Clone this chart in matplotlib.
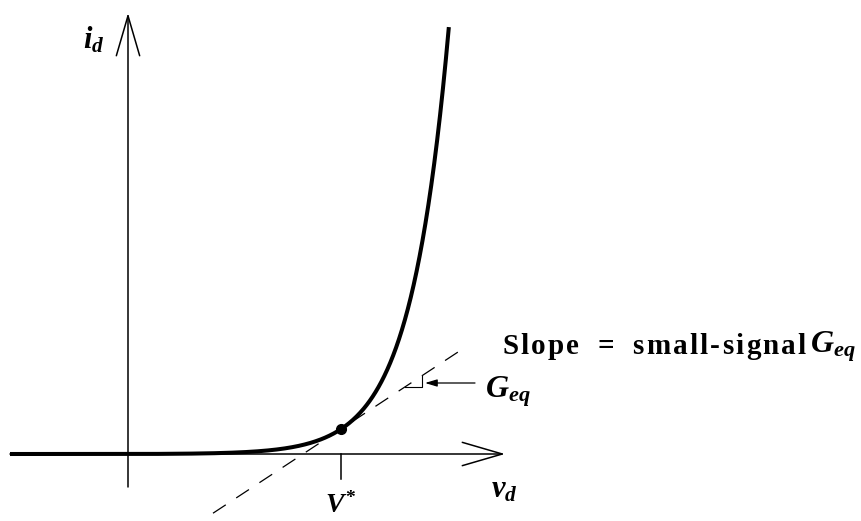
import numpy as np
import matplotlib
matplotlib.use("Agg")
import matplotlib.pyplot as plt

plt.rcParams['mathtext.fontset'] = 'custom'
plt.rcParams['mathtext.it'] = 'Liberation Serif:bold:italic'
plt.rcParams['mathtext.rm'] = 'Liberation Serif:bold'
plt.rcParams['mathtext.bf'] = 'Liberation Serif:bold'
plt.rcParams['lines.scale_dashes'] = False

# operating point and diode parameters (drawing units)
v_star = 2.13
i_star = 0.25
v_t = 0.38
v_start = -1.18
i_top = 4.27

# axis extents
v_axis = [-1.18, 3.77]
i_axis = [-0.33, 4.41]
tick_len = 0.25

# tangent line range, slope-marker step, G_eq pointer
tangent_v = [0.85, 3.34]
step_v = [2.77, 2.94]
pointer_v = [3.47, 2.97]
pointer_i = 0.71

slope = i_star / v_t
v_top = v_star + v_t * np.log(i_top / i_star)
v = np.linspace(v_start, v_top, 600)
i = i_star * np.exp((v - v_star) / v_t) - i_star * np.exp(-v_star / v_t)
i = np.clip(i, 0, None)


def tangent(x):
    return i_star + slope * (np.asarray(x) - v_star)


fig = plt.figure(figsize=(8.62, 5.21), dpi=100)
ax = fig.add_axes([0, 0, 1, 1])
ax.set_xlim(-1.28, 7.34)
ax.set_ylim(-0.67, 4.54)
ax.axis('off')
renderer = fig.canvas.get_renderer()

# axes drawn as open arrows
head = dict(arrowstyle='->,head_length=1.44,head_width=0.42', mutation_scale=20,
            lw=1.1, color='black', shrinkA=0, shrinkB=0)
ax.annotate('', xy=(v_axis[1], 0), xytext=(v_axis[0], 0), arrowprops=head)
ax.annotate('', xy=(0, i_axis[1]), xytext=(0, i_axis[0]), arrowprops=head)

# tick at V*
ax.plot([v_star, v_star], [0, -tick_len], color='black', lw=1.1)

# tangent (dashed)
tv = np.array(tangent_v)
ax.plot(tv, tangent(tv), color='black', lw=0.9, linestyle=(0, (11, 9)))

# small step marking the slope
ax.plot([step_v[0], step_v[1], step_v[1]],
        [tangent(step_v[0]), tangent(step_v[0]), tangent(step_v[1])],
        color='black', lw=0.8)
ax.annotate('', xy=(pointer_v[1], pointer_i), xytext=(pointer_v[0], pointer_i),
            arrowprops=dict(arrowstyle='-|>,head_length=0.6,head_width=0.18',
                            mutation_scale=12, lw=0.9, color='black',
                            shrinkA=0, shrinkB=0))

# diode characteristic and operating point
ax.plot(v, i, color='black', lw=2.9, solid_capstyle='butt')
ax.plot([v_star], [i_star], 'o', color='black', ms=7)

# labels
ax.text(-0.24, 4.14, r'$i_d$', fontsize=22, ha='right', va='center')
ax.text(3.76, -0.36, r'$v_d$', fontsize=22, ha='center', va='center')
ax.text(v_star, -0.65, r'$V^{*}$', fontsize=20, ha='center', va='bottom')
ax.text(3.57, 0.62, r'$G_{eq}$', fontsize=23, ha='left', va='center')

# letter-spaced caption, one glyph at a time (100 px per unit)
caption = 'Slope  =  small-signal'
x_pos = 3.74
for ch in caption:
    t = ax.text(x_pos, 1.07, ch, fontsize=21, family='Liberation Serif',
                weight='bold', ha='left', va='center')
    w = 6.0 if ch == ' ' else t.get_window_extent(renderer=renderer).width
    x_pos += (w + 2.2) / 100
ax.text(x_pos + 0.02, 1.07, r'$G_{eq}$', fontsize=23, ha='left', va='center')

fig.savefig('out.png', dpi=100)
